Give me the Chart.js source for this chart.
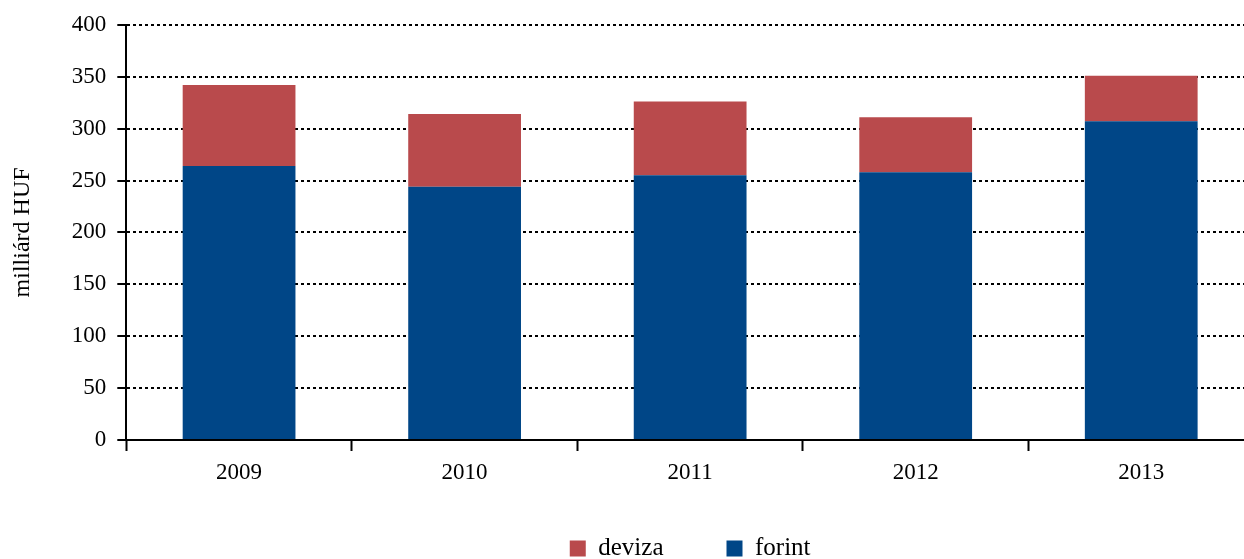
<!DOCTYPE html>
<html>
<head>
<meta charset="utf-8">
<script src="https://cdn.jsdelivr.net/npm/chart.js@4"></script>
<style>
  html, body { margin: 0; padding: 0; background: #fff; overflow: hidden; }
  #wrap { width: 1254px; height: 571px; position: relative; }
</style>
</head>
<body>
<div id="wrap"><canvas id="credit-chart"></canvas></div>
<script>
var years = ['2009', '2010', '2011', '2012', '2013'];
var forint = [264, 244, 255, 258, 307];
var deviza = [78, 70, 71, 53, 44];
var yTicks = [0, 50, 100, 150, 200, 250, 300, 350, 400];

var serif = '"Liberation Serif", "Times New Roman", serif';

var context = document.getElementById('credit-chart').getContext('2d');
var chart = new Chart(context, {
  type: 'bar',
  data: {
    labels: years,
    datasets: [
      {
        label: 'forint',
        data: forint,
        backgroundColor: '#004687',
        barPercentage: 1,
        categoryPercentage: 0.5,
      },
      {
        label: 'deviza',
        data: deviza,
        backgroundColor: '#B94A4C',
        barPercentage: 1,
        categoryPercentage: 0.5,
      }
    ],
  },
  options: {
    animation: false,
    responsive: true,
    maintainAspectRatio: false,
    layout: {
      padding: { top: 23, right: 0, bottom: 0, left: 0 }
    },
    plugins: {
      tooltip: { enabled: false },
      legend: {
        position: 'bottom',
        fullSize: false,
        reverse: true,
        labels: {
          boxWidth: 16,
          boxHeight: 16,
          padding: 63,
          color: '#000',
          font: { family: serif, size: 25 }
        }
      },
    },
    scales: {
      x: {
        stacked: true,
        // keep the axis short so the legend sits low; mirror avoids label clipping
        afterFit: function (axis) {
          axis.height = 33;
        },
        grid: {
          display: true,
          drawOnChartArea: false,
          drawTicks: true,
          tickLength: 11,
          tickWidth: 2,
          tickColor: '#000',
        },
        border: { display: true, color: '#000', width: 2 },
        ticks: {
          mirror: true,
          padding: -47,
          color: '#000',
          font: { family: serif, size: 23 }
        }
      },
      y: {
        stacked: true,
        min: 0,
        max: 400,
        afterBuildTicks: function (axis) {
          axis.ticks = yTicks.map(function (v) { return { value: v }; });
        },
        title: {
          display: true,
          text: 'milliárd HUF',
          color: '#000',
          font: { family: serif, size: 24 },
          padding: { top: 8, bottom: 24 }
        },
        grid: {
          color: '#000',
          lineWidth: 2,
          tickLength: 9,
          tickColor: '#000',
          tickBorderDash: [],
        },
        border: { display: true, color: '#000', width: 2, dash: [3, 3] },
        ticks: {
          padding: 11,
          color: '#000',
          font: { family: serif, size: 23 }
        }
      }
    },
  }
});
</script>
</body>
</html>
